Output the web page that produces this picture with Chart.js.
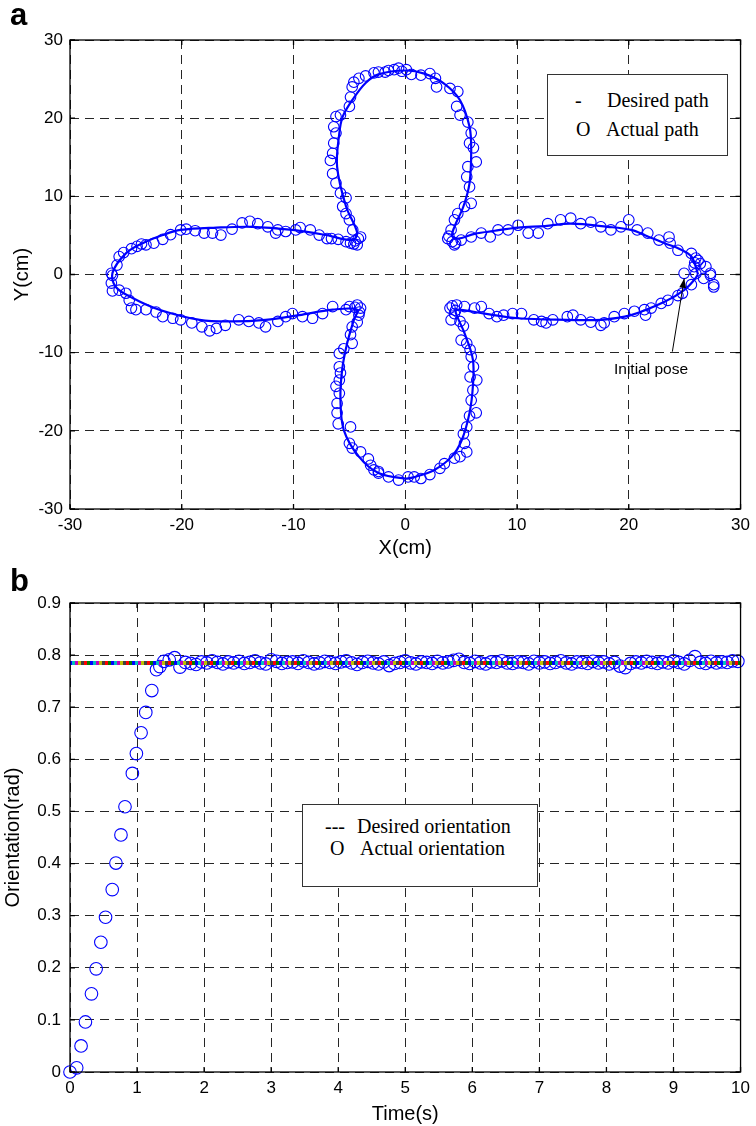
<!DOCTYPE html>
<html>
<head>
<meta charset="utf-8">
<script src="https://cdn.jsdelivr.net/npm/chart.js@4.4.0/dist/chart.umd.min.js"></script>
<style>
  html,body{margin:0;padding:0;background:#fff;}
  #wrap{position:relative;width:756px;height:1126px;overflow:hidden;}
  canvas{position:absolute;left:0;}
  .lbl{position:absolute;white-space:nowrap;color:#000;}
  .panel{font-family:"Liberation Sans",Arial,sans-serif;font-weight:bold;font-size:31px;line-height:30px;}
  .leg{position:absolute;background:#fff;border:1px solid #333;box-sizing:border-box;}
  .serif{font-family:"Liberation Serif","Times New Roman",serif;font-size:20px;line-height:22px;}
  .note{font-family:"Liberation Sans",Arial,sans-serif;font-size:15.5px;line-height:18px;}
</style>
</head>
<body>
<div id="wrap">
  <canvas id="c1" width="756" height="560" style="top:0;width:756px;height:560px"></canvas>
  <canvas id="c2" width="756" height="566" style="top:560px;width:756px;height:566px"></canvas>

  <div class="lbl panel" style="left:10px;top:0px">a</div>
  <div class="lbl panel" style="left:10px;top:566px">b</div>

  <div class="leg" style="left:547px;top:74px;width:181px;height:82px"></div>
  <div class="lbl serif" style="left:575px;top:89px">-</div>
  <div class="lbl serif" style="left:607px;top:89px">Desired path</div>
  <div class="lbl serif" style="left:576px;top:118px">O</div>
  <div class="lbl serif" style="left:606px;top:118px">Actual path</div>

  <div class="lbl note" style="left:614px;top:360px">Initial pose</div>

  <div class="leg" style="left:302px;top:804px;width:236px;height:83px"></div>
  <div class="lbl serif" style="left:325px;top:815px">---</div>
  <div class="lbl serif" style="left:357px;top:815px">Desired orientation</div>
  <div class="lbl serif" style="left:330px;top:837px">O</div>
  <div class="lbl serif" style="left:360px;top:837px">Actual orientation</div>
</div>
<script>
// ---------------- DATA: panel a ----------------
const pathXTicks = [-30, -20, -10, 0, 10, 20, 30];
const pathYTicks = [-30, -20, -10, 0, 10, 20, 30];

const desiredPath = [
  [26.2,0],[25.6,2.3],[24.5,3.3],[23.2,4.0],[21.5,5.0],[20.2,5.7],[18.1,6.1],[14.8,6.5],[12.5,6.2],[10.1,6.0],[8,5.6],[6.2,5.2],[4.8,4.6],[4.2,4.9],
  [4.4,6.1],[5.2,8.7],[5.75,11.7],[5.9,15.9],[5.75,18.9],[4.9,22.3],[3.5,24.4],[1.7,25.7],[0,26.1],[-2.4,25.6],[-3.55,24.5],[-4.75,22.3],[-5.6,20.2],[-5.9,18.1],[-6.1,13.8],[-5.3,8.7],[-4.3,5.3],
  [-4.75,4.4],[-7.1,5.05],[-10.1,5.7],[-13.7,6.1],[-16.9,6.0],[-20.1,5.7],[-21.7,5.05],[-23.5,4.0],[-25,2.7],[-26.2,0.2],
  [-25.9,-1.6],[-24.4,-3.0],[-22,-4.5],[-18.4,-5.8],[-15.5,-6.0],[-12.5,-5.8],[-9.5,-5.2],[-6.5,-4.5],[-4.3,-4.5],
  [-4.6,-5.8],[-5.2,-8.8],[-5.65,-12.2],[-5.8,-16.0],[-5.5,-19.9],[-4.15,-23.3],[-2.4,-25.4],[0,-26.1],[0.85,-25.9],[2.6,-25.0],[4.15,-23.3],[5.05,-21.2],[5.75,-17.7],[6.05,-14.3],[6.05,-10.9],[5.3,-7.5],[4.5,-4.8],
  [4.7,-4.5],[7.1,-5.0],[10.1,-5.6],[14.5,-5.8],[17.5,-5.8],[20.2,-5.2],[23.2,-3.5],[24.95,-2.0],[25.85,-0.7],[26.2,0]
];

const actualPath = [
  [24.95,0.15],[25.85,1.0],[26.0,0.1],[26.7,-0.5],[27.3,-0.1],[27.6,-1.3],[27.6,-1.6],[27.3,0.15],[26.9,1.0],[26.4,1.4],[26.2,1.8],[25.9,1.5],[26.0,2.1],[25.6,2.7],
  [24.4,3.1],[23.7,4.0],[23.6,4.8],[22.7,4.4],[21.7,5.3],[20.75,5.7],[20.0,7.0],[19.3,6.1],[18.4,5.7],[17.5,6.1],[16.6,6.7],[15.7,6.5],[14.8,7.2],[13.9,7.0],
  [12.75,6.5],[11.9,5.3],[11.0,5.3],[10.1,6.3],[9.2,5.7],[8.3,5.7],[7.6,4.8],[6.8,5.3],[5.9,4.8],[5.0,4.4],[4.4,3.8],[4.2,4.2],[3.9,4.9],[4.5,4.0],[3.8,4.6],
  [4.1,5.7],[4.4,7.0],[4.7,7.8],[5.3,8.7],[5.9,9.1],[5.75,11.2],[5.5,12.5],[5.6,13.8],[6.35,14.4],[6.1,16.2],[5.75,16.8],[5.9,18.1],[5.6,19.5],[4.9,20.4],
  [4.6,21.5],[4.7,23.4],[4.0,23.8],[2.8,24.0],[2.7,25.1],[2.2,25.7],[1.4,25.5],[0.55,25.6],[0.1,26.2],[-0.3,26.0],[-0.6,26.4],[-1.0,26.2],[-1.5,26.1],[-1.8,25.9],
  [-2.4,25.9],[-2.8,25.8],[-3.55,25.4],[-4.15,25.1],[-4.6,24.6],[-4.75,24.0],[-4.9,22.7],[-5.0,21.5],[-5.8,20.4],[-6.2,20.2],[-6.4,18.9],[-6.2,18.1],[-6.4,16.8],
  [-6.5,15.5],[-6.7,14.6],[-6.5,12.9],[-6.2,11.7],[-5.8,10.4],[-5.3,9.8],[-5.6,8.7],[-5.3,7.8],[-5.0,7.0],[-4.7,5.7],[-4.0,4.8],[-4.5,4.3],[-4.2,4.6],[-4.6,3.9],
  [-4.3,3.8],[-4.9,4.0],[-5.3,4.2],[-6.0,4.5],[-6.6,4.6],[-7.0,4.6],[-7.7,5.05],[-8.5,5.7],[-9.4,6.0],[-9.8,5.7],[-10.7,5.5],[-11.4,5.7],[-11.6,5.3],[-12.3,6.1],
  [-13.2,6.5],[-13.9,6.8],[-14.6,6.6],[-15.5,5.8],[-16.5,5.05],[-17.25,5.3],[-18.0,5.3],[-18.8,5.6],[-19.6,5.8],[-20.1,5.7],[-21.0,5.1],[-21.7,4.5],[-22.5,4.0],
  [-23.2,3.8],[-23.6,3.9],[-24.0,3.6],[-24.5,3.3],[-25.2,2.8],[-25.6,2.3],[-25.8,1.2],[-26.3,0.15],
  [-26.2,-0.1],[-26.3,-1.1],[-26.2,-2.1],[-25.6,-2.0],[-25.0,-2.4],[-24.7,-3.3],[-24.5,-4.3],[-24.1,-4.5],[-23.2,-4.5],[-22.3,-4.8],[-21.7,-5.4],[-20.8,-5.6],
  [-20.1,-5.8],[-19.1,-6.2],[-18.2,-6.7],[-17.5,-7.2],[-16.9,-6.9],[-16.1,-6.5],[-14.9,-5.8],[-14.0,-6.0],[-13.1,-6.2],[-12.5,-6.7],[-11.4,-6.0],[-10.7,-5.4],
  [-10.1,-5.0],[-9.2,-5.4],[-8.3,-5.6],[-7.4,-5.0],[-6.5,-4.1],[-5.3,-4.5],[-5.0,-4.1],[-4.3,-3.9],[-4.5,-4.2],[-4.1,-4.8],[-4.0,-4.3],[-4.15,-5.2],[-4.3,-6.1],
  [-4.75,-6.7],[-4.9,-7.7],[-4.75,-8.8],[-5.5,-9.5],[-5.9,-10.1],[-5.9,-11.8],[-5.8,-12.6],[-5.9,-13.5],[-6.2,-14.3],[-5.9,-15.2],[-6.1,-16.5],[-6.1,-17.7],
  [-6.0,-19.1],[-4.9,-19.5],[-5.0,-21.6],[-4.75,-22.2],[-4.0,-22.7],[-3.3,-23.6],[-3.1,-24.4],[-2.8,-25.0],[-2.4,-25.4],[-2.4,-25.2],[-1.5,-25.9],[-0.6,-26.3],
  [0.25,-25.9],[0.8,-25.9],[1.4,-26.1],[2.2,-25.6],[3.1,-24.8],[3.5,-24.2],[4.4,-23.5],[4.9,-23.3],[5.5,-22.7],[5.3,-21.6],[5.2,-20.4],[5.5,-19.5],[5.75,-18.1],
  [6.35,-17.7],[5.9,-16.1],[6.05,-14.8],[6.4,-13.5],[5.8,-13.1],[6.1,-11.8],[5.9,-10.5],[5.8,-9.6],[5.5,-8.8],[5.0,-8.4],[5.2,-6.6],[4.9,-6.0],[4.1,-5.8],
  [4.4,-5.0],[4.2,-4.0],[4.5,-4.6],[4.0,-4.3],[4.6,-3.9],[5.3,-4.1],[6.2,-4.3],[6.8,-4.1],[7.5,-5.0],[8.2,-5.4],[8.8,-5.2],[9.6,-5.0],[10.4,-5.0],[11.5,-5.8],
  [12.2,-6.0],[12.6,-6.2],[13.2,-5.8],[14.5,-5.4],[15.0,-5.2],[15.7,-5.8],[16.6,-6.1],[17.8,-6.2],[17.5,-6.5],[18.7,-5.4],[19.6,-5.0],[20.5,-4.7],[21.5,-5.2],
  [21.4,-4.5],[22.0,-4.3],[22.9,-3.7],[23.5,-3.3],[24.4,-2.7],[24.8,-2.4],[25.6,-1.3]
];

// "Initial pose" arrow (data coordinates)
const arrowFrom = [23.9, -9.87];
const arrowTo = [24.96, -0.5];

// ---------------- DATA: panel b ----------------
const timeTicks = [0,1,2,3,4,5,6,7,8,9,10];
const orientTicks = [0,0.1,0.2,0.3,0.4,0.5,0.6,0.7,0.8,0.9];
const desiredOrientT = [0, 10];
const desiredOrientV = [0.785, 0.785];

const actualOrientT = [
  0,0.10,0.165,0.23,0.32,0.39,0.46,0.53,0.63,0.685,0.76,0.82,0.93,0.99,1.06,1.13,1.22,1.29,1.34,
  1.40,1.48,1.56,1.64,1.72,1.80,1.88,1.96,2.04,2.12,2.20,2.28,2.36,2.44,2.52,2.60,2.68,2.76,2.84,2.92,
  3.00,3.08,3.16,3.24,3.32,3.40,3.48,3.56,3.64,3.72,3.80,3.88,3.96,4.04,4.12,4.20,4.28,4.36,4.44,4.52,
  4.60,4.68,4.76,4.84,4.92,5.00,5.08,5.16,5.24,5.32,5.40,5.48,5.56,5.64,5.72,5.80,5.88,5.96,6.04,6.12,
  6.20,6.28,6.36,6.44,6.52,6.60,6.68,6.76,6.84,6.92,7.00,7.08,7.16,7.24,7.32,7.40,7.48,7.56,7.64,7.72,
  7.80,7.88,7.96,8.04,8.12,8.20,8.28,8.36,8.44,8.52,8.60,8.68,8.76,8.84,8.92,9.00,9.08,9.16,9.24,9.32,
  9.40,9.48,9.56,9.64,9.72,9.80,9.88,9.96
];
const actualOrientV = [
  0,0.008,0.05,0.096,0.15,0.198,0.249,0.297,0.35,0.401,0.455,0.509,0.573,0.611,0.651,0.69,0.732,0.772,0.778,
  0.788,0.791,0.795,0.777,0.786,0.784,0.782,0.787,0.785,0.789,
  0.786,0.783,0.787,0.785,0.788,0.784,0.786,0.789,0.785,0.783,
  0.791,0.788,0.784,0.786,0.787,0.784,0.789,0.786,0.783,0.785,
  0.788,0.786,0.784,0.787,0.789,0.785,0.782,0.786,0.788,0.785,
  0.783,0.787,0.780,0.784,0.786,0.789,0.785,0.783,0.787,0.786,
  0.784,0.788,0.785,0.787,0.790,0.792,0.786,0.784,0.788,0.785,
  0.783,0.787,0.786,0.789,0.785,0.784,0.787,0.786,0.783,0.788,
  0.785,0.787,0.784,0.786,0.789,0.785,0.783,0.787,0.786,0.784,
  0.788,0.785,0.787,0.783,0.786,0.779,0.776,0.784,0.787,0.785,
  0.788,0.786,0.784,0.787,0.785,0.789,0.786,0.783,0.790,0.797,
  0.786,0.784,0.788,0.785,0.787,0.786,0.789,0.788
];

// ---------------- STYLE / HELPERS ----------------
Chart.defaults.font.family = '"Liberation Sans", Arial, sans-serif';
Chart.defaults.color = '#000';

const framePlugin = {
  id: 'frame',
  afterDraw(chart) {
    const {ctx, chartArea: {left, right, top, bottom}, scales: {x, y}} = chart;
    ctx.save();
    ctx.strokeStyle = '#000';
    ctx.lineWidth = 1.3;
    ctx.strokeRect(left, top, right - left, bottom - top);
    const L = 5;
    ctx.beginPath();
    x.ticks.forEach(t => {
      const p = x.getPixelForValue(t.value);
      ctx.moveTo(p, bottom); ctx.lineTo(p, bottom - L);
      ctx.moveTo(p, top); ctx.lineTo(p, top + L);
    });
    y.ticks.forEach(t => {
      const p = y.getPixelForValue(t.value);
      ctx.moveTo(left, p); ctx.lineTo(left + L, p);
      ctx.moveTo(right, p); ctx.lineTo(right - L, p);
    });
    ctx.stroke();
    ctx.restore();
  }
};

const arrowPlugin = {
  id: 'arrow',
  afterDatasetsDraw(chart) {
    const {ctx, scales: {x, y}} = chart;
    const x1 = x.getPixelForValue(arrowFrom[0]), y1 = y.getPixelForValue(arrowFrom[1]);
    const x2 = x.getPixelForValue(arrowTo[0]), y2 = y.getPixelForValue(arrowTo[1]);
    const ang = Math.atan2(y2 - y1, x2 - x1);
    ctx.save();
    ctx.strokeStyle = '#000';
    ctx.fillStyle = '#000';
    ctx.lineWidth = 1;
    ctx.beginPath(); ctx.moveTo(x1, y1); ctx.lineTo(x2, y2); ctx.stroke();
    const h = 10, w = 0.35;
    ctx.beginPath();
    ctx.moveTo(x2, y2);
    ctx.lineTo(x2 - h * Math.cos(ang - w), y2 - h * Math.sin(ang - w));
    ctx.lineTo(x2 - h * Math.cos(ang + w), y2 - h * Math.sin(ang + w));
    ctx.closePath(); ctx.fill();
    ctx.restore();
  }
};

function axis(min, max, ticksArr, title, titlePad, fitSize, horiz, tickPad) {
  return {
    type: 'linear', min, max,
    afterBuildTicks: s => { s.ticks = ticksArr.map(v => ({value: v})); },
    afterFit: s => { if (horiz) s.height = fitSize; else s.width = fitSize; },
    ticks: {font: {size: 17}, color: '#000', padding: tickPad, autoSkip: false, maxRotation: 0},
    grid: {color: '#262626', lineWidth: 1, drawTicks: false},
    border: {display: false, dash: [9, 6]},
    title: {display: true, text: title, font: {size: 20}, color: '#000', padding: titlePad}
  };
}

// ---------------- CHART a ----------------
new Chart(document.getElementById('c1'), {
  type: 'scatter',
  data: {
    datasets: [
      {
        label: 'Desired path',
        data: desiredPath.map(p => ({x: p[0], y: p[1]})),
        showLine: true, pointRadius: 0, borderColor: '#0000ff', borderWidth: 2.2, tension: 0.35, fill: false
      },
      {
        label: 'Actual path',
        data: actualPath.map(p => ({x: p[0], y: p[1]})),
        showLine: false, pointRadius: 5.3, pointStyle: 'circle',
        borderColor: '#0000ff', backgroundColor: 'rgba(0,0,0,0)', pointBorderWidth: 1.1, clip: false
      }
    ]
  },
  options: {
    responsive: false, animation: false, devicePixelRatio: 1,
    layout: {padding: {top: 40, right: 13, left: 0, bottom: 0}},
    plugins: {legend: {display: false}, tooltip: {enabled: false}},
    scales: {
      x: axis(-30, 30, pathXTicks, 'X(cm)', {top: 0, bottom: 0}, 51, true, 6),
      y: axis(-30, 30, pathYTicks, 'Y(cm)', {top: 10, bottom: 0}, 70, false, 7)
    }
  },
  plugins: [framePlugin, arrowPlugin]
});

// ---------------- CHART b ----------------
const pc = document.createElement('canvas');
pc.width = 21; pc.height = 4;
const pctx = pc.getContext('2d');
['#ff0000', '#008000', '#0000ff', '#00bfbf', '#bf00bf', '#bfbf00', '#404040'].forEach((c, i) => {
  pctx.fillStyle = c; pctx.fillRect(i * 3, 0, 3, 4);
});
const c2 = document.getElementById('c2');
const dotPattern = c2.getContext('2d').createPattern(pc, 'repeat');

new Chart(c2, {
  type: 'scatter',
  data: {
    datasets: [
      {
        label: 'Desired orientation',
        data: desiredOrientT.map((t, i) => ({x: t, y: desiredOrientV[i]})),
        showLine: true, pointRadius: 0, borderColor: dotPattern, borderWidth: 4, fill: false
      },
      {
        label: 'Actual orientation',
        data: actualOrientT.map((t, i) => ({x: t, y: actualOrientV[i]})),
        showLine: false, pointRadius: 6.3, pointStyle: 'circle',
        borderColor: '#0000ff', backgroundColor: 'rgba(0,0,0,0)', pointBorderWidth: 1.1, clip: false
      }
    ]
  },
  options: {
    responsive: false, animation: false, devicePixelRatio: 1,
    layout: {padding: {top: 43, right: 15, left: 0, bottom: 0}},
    plugins: {legend: {display: false}, tooltip: {enabled: false}},
    scales: {
      x: axis(0, 10, timeTicks, 'Time(s)', {top: 0, bottom: 0}, 54, true, 6),
      y: axis(0, 0.9, orientTicks, 'Orientation(rad)', {top: 1, bottom: 0}, 70, false, 9)
    }
  },
  plugins: [framePlugin]
});
</script>
</body>
</html>
